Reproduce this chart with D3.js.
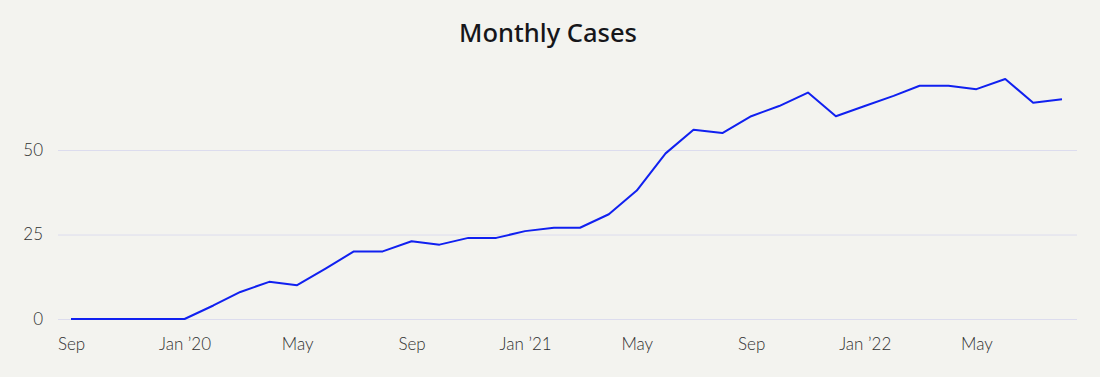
<!DOCTYPE html>
<html>
<head>
<meta charset="utf-8">
<script src="https://cdn.jsdelivr.net/npm/d3@7"></script>
<style>
  html, body { margin: 0; padding: 0; background: #f3f3ef; }
  svg { display: block; font-family: "Lato", "Noto Sans", sans-serif; }
</style>
</head>
<body>
<div id="chart"></div>
<script>
// monthly values, Sep 2019 .. Aug 2022
const startMonth = new Date(2019, 8, 1);
const cases = [0, 0, 0, 0, 0, 4, 8, 11, 10, 15, 20, 20,
               23, 22, 24, 24, 26, 27, 27, 31, 38, 49, 56, 55,
               60, 63, 67, 60, 63, 66, 69, 69, 68, 71, 64, 65];
const yTicks = [0, 25, 50];
const monthNames = ["Jan", "Feb", "Mar", "Apr", "May", "Jun", "Jul", "Aug", "Sep", "Oct", "Nov", "Dec"];

const width = 1100, height = 377;
const margin = {top: 60, right: 23, bottom: 58, left: 71};

const data = cases.map((v, i) => ({date: d3.timeMonth.offset(startMonth, i), value: v}));

const svg = d3.select("#chart").append("svg")
  .attr("width", width)
  .attr("height", height);

const x = d3.scaleTime()
  .domain([startMonth, d3.timeMonth.offset(startMonth, 35)])
  .range([margin.left, 1062]);

const y = d3.scaleLinear()
  .domain([0, 50])
  .range([319, 150]);

// title
svg.append("text")
  .attr("x", 548)
  .attr("y", 42)
  .attr("text-anchor", "middle")
  .attr("font-size", 25.5)
  .attr("font-family", "'Noto Sans', sans-serif")
  .attr("font-weight", 500)
  .attr("fill", "#16161a")
  .text("Monthly Cases");

// gridlines + y labels
const yAxis = d3.axisLeft(y)
  .tickValues(yTicks)
  .tickSize(-(1077 - 58))
  .tickPadding(15);

const gy = svg.append("g")
  .attr("transform", "translate(58,0)")
  .call(yAxis);
gy.select(".domain").remove();
gy.selectAll(".tick line").attr("stroke", "#dcdcee").attr("stroke-width", 1);
gy.selectAll(".tick text")
  .attr("font-size", 17)
  .attr("font-family", "Lato, sans-serif")
  .attr("font-weight", 300)
  .attr("fill", "#303030");

// x axis labels
const xTicks = d3.range(0, 36, 4).map(i => d3.timeMonth.offset(startMonth, i));
const xAxis = d3.axisBottom(x)
  .tickValues(xTicks)
  .tickSize(0)
  .tickPadding(0)
  .tickFormat(d => d.getMonth() === 0
    ? monthNames[0] + " \u2019" + String(d.getFullYear()).slice(2)
    : monthNames[d.getMonth()]);

const gx = svg.append("g")
  .attr("transform", "translate(0,338)")
  .call(xAxis);
gx.select(".domain").remove();
gx.selectAll(".tick text")
  .attr("font-size", 17)
  .attr("font-family", "Lato, sans-serif")
  .attr("font-weight", 300)
  .attr("fill", "#303030");

// line
const line = d3.line()
  .x(d => x(d.date))
  .y(d => y(d.value));

svg.append("path")
  .datum(data)
  .attr("fill", "none")
  .attr("stroke", "#1020f0")
  .attr("stroke-width", 2)
  .attr("stroke-linejoin", "round")
  .attr("d", line);
</script>
</body>
</html>
